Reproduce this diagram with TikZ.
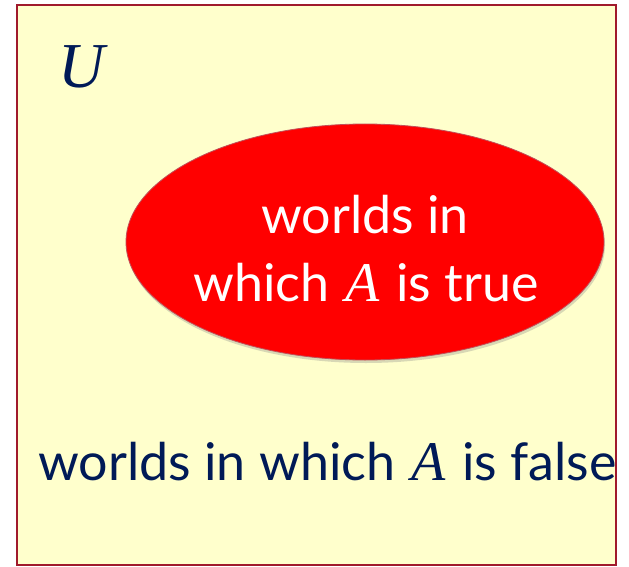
\documentclass[tikz,border=0pt]{standalone}
\usepackage{fontspec}
\setmainfont{Lato}
\newfontfamily\varfont{Liberation Serif}
\usetikzlibrary{shadows,shapes.geometric}
\definecolor{bgyellow}{HTML}{FFFFCC}
\definecolor{boxred}{HTML}{A01A2C}
\definecolor{navy}{HTML}{001A57}
\definecolor{ellred}{HTML}{FF0000}
\definecolor{ellborder}{HTML}{C0505A}
\newcommand{\vA}{\hspace{3pt}{\varfont\itshape\fontsize{56}{56}\selectfont A}\hspace{3pt}}
\begin{document}
\begin{tikzpicture}[x=1pt,y=-1pt]
\tikzset{
  universe/.style={draw=boxred,line width=1.2pt,fill=bgyellow,drop shadow={shadow xshift=-1pt,shadow yshift=-1pt,opacity=0.25}},
  setA/.style={ellipse,draw=ellborder,line width=0.8pt,fill=ellred,minimum width=478pt,minimum height=236pt,inner sep=0pt,
    drop shadow={shadow xshift=1pt,shadow yshift=-3pt,opacity=0.3}},
  lbl/.style={font=\fontsize{52}{52}\selectfont,text=navy,inner sep=0pt},
  inlbl/.style={lbl,text=white,anchor=base},
}
\useasboundingbox (0,0) rectangle (629,567);
\path[universe] (17,5) rectangle (616,565);
\node[inner sep=0pt,text=navy,font=\fontsize{64}{64}\selectfont,anchor=base] (U) at (82,88) {\varfont\itshape U};
\node[setA] (A) at (365,242) {};
\node[inlbl] (At1) at (365,233) {worlds in};
\node[inlbl] (At2) at (366,301) {which \vA{} is true};
\node[lbl,anchor=base west] (F) at (38,480) {worlds in which \vA{} is false};
\end{tikzpicture}
\end{document}
